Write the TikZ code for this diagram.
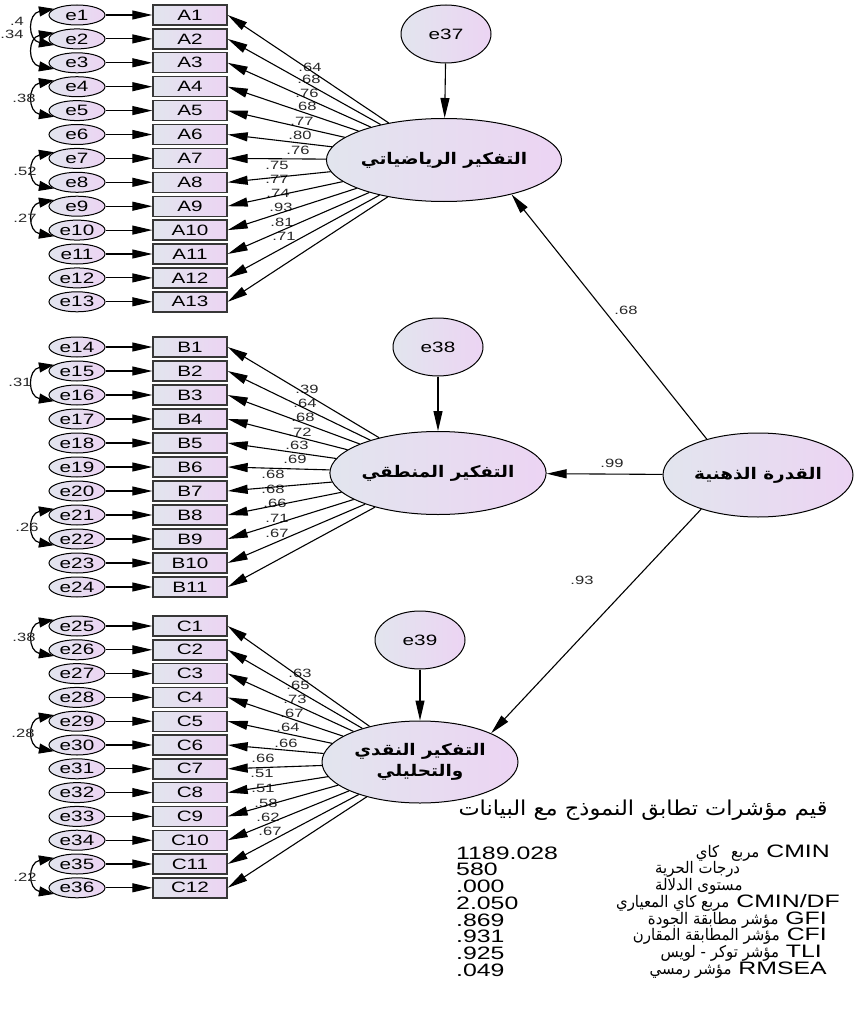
\documentclass[tikz,border=0pt]{standalone}
\usepackage{fontspec}
\usetikzlibrary{shapes.geometric,arrows.meta,calc}
\TeXXeTstate=1
\newfontfamily\lat[FakeStretch=1.38]{Liberation Sans}
\newfontfamily\tabfont[FakeStretch=1.38]{Liberation Sans}
\newfontfamily\arabicfont[Script=Arabic,FakeStretch=0.93]{DejaVu Sans}
\newfontfamily\arabictitle[Script=Arabic,FakeStretch=1.1]{DejaVu Sans}
\newfontfamily\arabicbf[Script=Arabic,FakeStretch=1.15]{DejaVu Sans Bold}
\definecolor{shadeL}{RGB}{226,229,238}
\definecolor{shadeR}{RGB}{236,212,243}
\definecolor{boxline}{RGB}{55,55,55}
\definecolor{lbl}{RGB}{40,40,40}
\tikzset{
  evar/.style={ellipse, draw=black, line width=1pt, minimum width=56pt, minimum height=20pt, inner sep=0pt,
    left color=shadeL, right color=shadeR, font=\lat\fontsize{15}{15}\selectfont},
  obs/.style={rectangle, draw=boxline, line width=1.4pt, minimum width=74pt, minimum height=20pt, inner sep=0pt,
    left color=shadeL, right color=shadeR, font=\lat\fontsize{15}{15}\selectfont},
  latent/.style={ellipse, draw=black, line width=1pt, minimum width=194pt, minimum height=83pt, inner sep=0pt,
    left color=shadeL, right color=shadeR, align=center, font=\arabicbf\fontsize{16}{21}\selectfont},
  resid/.style={ellipse, draw=black, line width=1pt, minimum width=90pt, minimum height=58pt, inner sep=0pt,
    left color=shadeL, right color=shadeR, font=\lat\fontsize{15}{15}\selectfont},
  arr/.style={draw=black, line width=1.1pt, -{Triangle[length=20pt,width=9pt]}},
  cov/.style={draw=black, line width=1.2pt, {Triangle[length=15pt,width=10pt]}-{Triangle[length=15pt,width=10pt]}},
  ld/.style={font=\lat\fontsize{12}{12}\selectfont, text=lbl, inner sep=0pt},
  tabnum/.style={font=\tabfont\fontsize{18}{18}\selectfont, anchor=west, inner sep=0pt},
  tabtxt/.style={font=\tabfont\fontsize{18}{18}\selectfont, anchor=east, inner sep=0pt},
}
\newcommand{\arrow}{\arabicfont\fontsize{16}{17}\selectfont}
\begin{document}
\begin{tikzpicture}[x=1pt,y=-1pt]
\useasboundingbox (0,0) rectangle (867,1011);

% latent variables
\node[latent] (F1) at (444,160) {\beginR التفكير  الرياضياتي\endR};
\node[latent] (F2) at (438,473) {\beginR التفكير  المنطقي\endR};
\node[latent, minimum width=190pt, minimum height=84pt] (F0) at (758,475) {\beginR القدرة  الذهنية\endR};
\node[latent, minimum width=196pt, minimum height=82pt] (F3) at (420,762) {\beginR التفكير  النقدي\endR\\\beginR والتحليلي\endR};
\node[resid] (e37) at (446,34) {e37};
\node[resid] (e38) at (438,347) {e38};
\node[resid] (e39) at (420,640) {e39};

% loading labels (drawn first, lines over them)
\foreach \x/\y/\t [count=\i] in {310/67/.64,309/79/.68,307/93/.76,305/106/.68,302/121/.77,300/135/.80,298/150/.76,
   277/165/.75,277/179/.77,278/193/.74,281/207/.93,282/222/.81,284/236/.71}
  \node[ld] (la\i) at (\x,\y) {\t};
\foreach \x/\y/\t [count=\i] in {307/389/.39,305/403/.64,303/417/.68,300/432/.72,297/445/.63,295/459/.69,
   273/474/.68,273/489/.68,275/503/.66,277/518/.71,277/533/.67}
  \node[ld] (lb\i) at (\x,\y) {\t};
\foreach \x/\y/\t [count=\i] in {300/673/.63,298/685/.65,295/699/.73,292/713/.67,288/727/.64,286/743/.66,
   263/758/.66,262/773/.51,263/788/.51,266/803/.58,268/817/.62,270/831/.67}
  \node[ld] (lc\i) at (\x,\y) {\t};

% group A
\foreach \i in {1,...,13} {
  \pgfmathsetmacro\yy{15+(\i-1)*23.9}
  \node[evar] (e\i) at (77,\yy) {e\i};
  \node[obs] (A\i) at (190,\yy) {A\i};
  \draw[arr] (e\i) -- (A\i);
  \draw[arr] (F1) -- (A\i.east);
}
% group B
\foreach \i in {1,...,11} {
  \pgfmathsetmacro\yy{347+(\i-1)*24}
  \pgfmathtruncatemacro\ei{13+\i}
  \node[evar] (e\ei) at (77,\yy) {e\ei};
  \node[obs] (B\i) at (190,\yy) {B\i};
  \draw[arr] (e\ei) -- (B\i);
  \draw[arr] (F2) -- (B\i.east);
}
% group C
\foreach \i in {1,...,12} {
  \pgfmathsetmacro\yy{626+(\i-1)*23.8}
  \pgfmathtruncatemacro\ei{24+\i}
  \node[evar] (e\ei) at (77,\yy) {e\ei};
  \node[obs] (C\i) at (190,\yy) {C\i};
  \draw[arr] (e\ei) -- (C\i);
  \draw[arr] (F3) -- (C\i.east);
}

% covariances
\foreach \a/\b/\x/\y/\t in {1/2/17/21/.4, 2/3/12/34/.34, 4/5/24/98/.38, 7/8/25/171/.52, 9/10/25/218/.27,
   15/16/20/382/.31, 21/22/27/527/.26, 25/26/24/637/.38, 29/30/23/733/.28, 35/36/25/877/.22} {
  \draw[cov] (e\a.165) to[out=190,in=170,looseness=1.9] (e\b.195);
  \node[ld] (lcov\a) at (\x,\y) {\t};
}

% structural paths
\draw[arr] (e37) -- (F1);
\draw[arr] (e38) -- (F2);
\draw[arr] (e39) -- (F3);
\draw[arr] (F0.145) -- (F1.-27);
\draw[arr] (F0) -- (F2);
\draw[arr] (F0.211) -- (F3.22);
\node[ld] (l68) at (626,310) {.68};
\node[ld] (l99) at (612,463) {.99};
\node[ld] (l93) at (582,580) {.93};

% fit indices
\node[font=\arabictitle\fontsize{20.5}{20.5}\selectfont, inner sep=0pt] (title) at (643,810)
  {\beginR قيم مؤشرات تطابق النموذج مع البيانات\endR};
\foreach \t [count=\i] in {1189.028,580,.000,2.050,.869,.931,.925,.049} {
  \pgfmathsetmacro\yy{853+(\i-1)*16.7}
  \node[tabnum] (n\i) at (456,\yy) {\t};
}
\node[tabtxt] (t1) at (830,853) {{\arrow\beginR مربع\hspace{12pt}كاي\endR} CMIN};
\node[tabtxt, anchor=west] (t2) at (655,869.7) {{\arrow\beginR درجات الحرية\endR}};
\node[tabtxt, anchor=west] (t3) at (655,886.4) {{\arrow\beginR مستوى الدلالة\endR}};
\node[tabtxt] (t4) at (840,903) {{\arrow\beginR مربع كاي المعياري\endR} CMIN/DF};
\node[tabtxt] (t5) at (827,919.8) {{\arrow\beginR مؤشر مطابقة الجودة\endR} GFI};
\node[tabtxt] (t6) at (827,936.5) {{\arrow\beginR مؤشر المطابقة المقارن\endR} CFI};
\node[tabtxt] (t7) at (822,953) {{\arrow\beginR مؤشر توكر - لويس\endR} TLI};
\node[tabtxt] (t8) at (827,970) {{\arrow\beginR مؤشر رمسي\endR} RMSEA};
\end{tikzpicture}
\end{document}
